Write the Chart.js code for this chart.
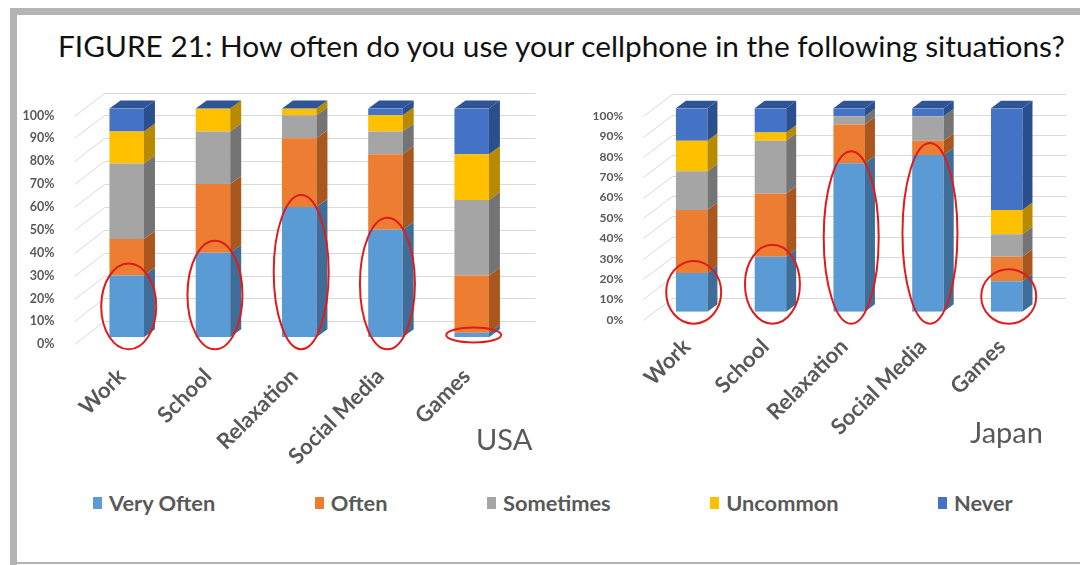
<!DOCTYPE html>
<html>
<head>
<meta charset="utf-8">
<script src="https://cdn.jsdelivr.net/npm/chart.js@4.4.1/dist/chart.umd.min.js"></script>
<style>
  body { margin: 0; background: #fff; width: 1080px; height: 565px; position: relative; overflow: hidden; font-family: Lato, sans-serif; }
  .frameTop { position: absolute; left: 10px; top: 8px; width: 1070px; height: 7px; background: #b4b4b4; }
  .frameLeft { position: absolute; left: 10px; top: 8px; width: 7px; height: 557px; background: #b4b4b4; }
  .frameBottom { position: absolute; left: 10px; top: 562px; width: 1070px; height: 2px; background: #b4b4b4; }
  #title { position: absolute; left: 58px; top: 28px; font-size: 29.8px; color: #111; white-space: nowrap; }
  canvas { position: absolute; }
  #usa { left: 0; top: 80px; }
  #japan { left: 560px; top: 80px; }
  .country { position: absolute; font-size: 29px; color: #595959; }
  #legend { position: absolute; left: 93px; top: 489px; display: flex; gap: 99.5px; font-size: 21.8px; font-weight: bold; color: #595959; }
  #legend span.item { display: flex; align-items: center; white-space: nowrap; }
  #legend i { display: inline-block; width: 9px; height: 12px; margin-right: 7px; }
</style>
</head>
<body>
<div class="frameTop"></div>
<div class="frameLeft"></div>
<div class="frameBottom"></div>
<div id="title">FIGURE 21: How often do you use your cellphone in the following situations?</div>
<canvas id="usa" width="550" height="400"></canvas>
<canvas id="japan" width="520" height="400"></canvas>
<div class="country" style="left:476px; top:421px;">USA</div>
<div class="country" style="left:970px; top:414px;">Japan</div>
<div id="legend"></div>
<script>
const categories = ['Work', 'School', 'Relaxation', 'Social Media', 'Games'];
const seriesNames = ['Very Often', 'Often', 'Sometimes', 'Uncommon', 'Never'];
const yTicks = [0, 10, 20, 30, 40, 50, 60, 70, 80, 90, 100];

// percentages per situation
const usaVeryOften = [27, 37, 57, 47, 2];
const usaOften = [16, 30, 30, 33, 25];
const usaSometimes = [33, 23, 10, 10, 33];
const usaUncommon = [14, 10, 3, 7, 20];
const usaNever = [10, 0, 0, 3, 20];

const japanVeryOften = [19, 27, 73, 77, 15];
const japanOften = [31, 31, 19, 7, 12];
const japanSometimes = [19, 26, 4, 12, 11];
const japanUncommon = [15, 4, 0, 0, 12];
const japanNever = [16, 12, 4, 4, 50];

const colors = ['#5b9bd5', '#ed7d31', '#a5a5a5', '#ffc000', '#4472c4'];
const sideColors = ['#3f6d97', '#a9561f', '#747474', '#b88a00', '#2b4e8c'];
const topColor = '#2f5597';

// legend
const legendEl = document.getElementById('legend');
seriesNames.forEach((name, i) => {
  const item = document.createElement('span');
  item.className = 'item';
  item.innerHTML = '<i style="background:' + colors[i] + '"></i>' + name;
  legendEl.appendChild(item);
});

// back wall grid + 3d faces + red highlight rings
const box3d = {
  id: 'box3d',
  beforeDatasetsDraw(chart, args, opts) {
    const ctx = chart.ctx;
    const area = chart.chartArea;
    const y = chart.scales.y;
    ctx.save();
    ctx.strokeStyle = '#d9d9d9';
    ctx.lineWidth = 1;
    yTicks.forEach(v => {
      const py = Math.round(y.getPixelForValue(v)) + 0.5;
      ctx.beginPath();
      ctx.moveTo(area.left - 9, py + opts.front);
      ctx.lineTo(area.left + opts.wallX, py - opts.back);
      ctx.lineTo(area.right + opts.wallX, py - opts.back);
      ctx.stroke();
    });
    ctx.restore();
  },
  afterDatasetsDraw(chart, args, opts) {
    const ctx = chart.ctx;
    const dx = opts.dx, dy = opts.dy;
    const last = chart.data.datasets.length - 1;
    ctx.save();
    chart.data.datasets.forEach((ds, i) => {
      const meta = chart.getDatasetMeta(i);
      meta.data.forEach(bar => {
        const p = bar.getProps(['x', 'y', 'base', 'width'], true);
        const l = p.x - p.width / 2, r = p.x + p.width / 2;
        ctx.fillStyle = sideColors[i];
        ctx.beginPath();
        ctx.moveTo(r, p.y);
        ctx.lineTo(r + dx, p.y - dy);
        ctx.lineTo(r + dx, p.base - dy);
        ctx.lineTo(r, p.base);
        ctx.closePath();
        ctx.fill();
        if (i === last) {
          ctx.fillStyle = topColor;
          ctx.beginPath();
          ctx.moveTo(l, p.y);
          ctx.lineTo(l + dx, p.y - dy);
          ctx.lineTo(r + dx, p.y - dy);
          ctx.lineTo(r, p.y);
          ctx.closePath();
          ctx.fill();
        }
      });
    });
    // rings round the "Very Often" segments
    ctx.strokeStyle = '#e01b1b';
    ctx.lineWidth = 2;
    chart.getDatasetMeta(0).data.forEach(bar => {
      const p = bar.getProps(['x', 'y', 'base', 'width'], true);
      const half = (p.base - p.y) / 2;
      const ry = half < 5 ? 7.5 : half + 12;
      ctx.beginPath();
      ctx.ellipse(p.x + 2, p.y + half, 27.5, ry, 0, 0, Math.PI * 2);
      ctx.stroke();
    });
    ctx.restore();
  }
};

function makeChart(id, series, cfg) {
  const datasets = series.map((values, i) => ({
    label: seriesNames[i],
    data: values,
    backgroundColor: colors[i],
    borderWidth: 0,
    barPercentage: 0.4,
    categoryPercentage: 1
  }));
  return new Chart(document.getElementById(id), {
    type: 'bar',
    data: { labels: categories, datasets: datasets },
    plugins: [box3d],
    options: {
      responsive: false,
      animation: false,
      layout: { padding: { left: 0, top: cfg.top, right: cfg.right, bottom: 0 } },
      plugins: {
        legend: { display: false },
        tooltip: { enabled: false },
        box3d: cfg.depth
      },
      scales: {
        x: {
          stacked: true,
          grid: { display: false },
          border: { display: false },
          ticks: {
            autoSkip: false,
            minRotation: 45,
            maxRotation: 45,
            padding: cfg.xPad,
            labelOffset: -5,
            color: '#595959',
            font: { family: 'Lato', size: 22, weight: 'bold' }
          },
          afterFit(scale) { scale.height = cfg.xHeight; }
        },
        y: {
          stacked: true,
          min: 0,
          max: 100,
          grid: { display: false },
          border: { display: false },
          ticks: {
            stepSize: 10,
            padding: 21,
            labelOffset: cfg.depth.front,
            color: '#595959',
            font: { family: 'Lato', size: cfg.yFont, weight: 'bold' },
            callback: v => v + '%'
          },
          afterFit(scale) { scale.width = cfg.yWidth; }
        }
      }
    }
  });
}

makeChart('usa', [usaVeryOften, usaOften, usaSometimes, usaUncommon, usaNever], {
  top: 25, right: 35.2, xHeight: 142.7, yWidth: 83.6, yFont: 12.5, xPad: 18,
  depth: { dx: 11, dy: 8, front: 7, back: 16, wallX: 21 }
});
makeChart('japan', [japanVeryOften, japanOften, japanSometimes, japanUncommon, japanNever], {
  top: 26.7, right: 33.9, xHeight: 168.3, yWidth: 92.3, yFont: 12, xPad: 14,
  depth: { dx: 10, dy: 7.5, front: 8, back: 14, wallX: 20 }
});
</script>
</body>
</html>
